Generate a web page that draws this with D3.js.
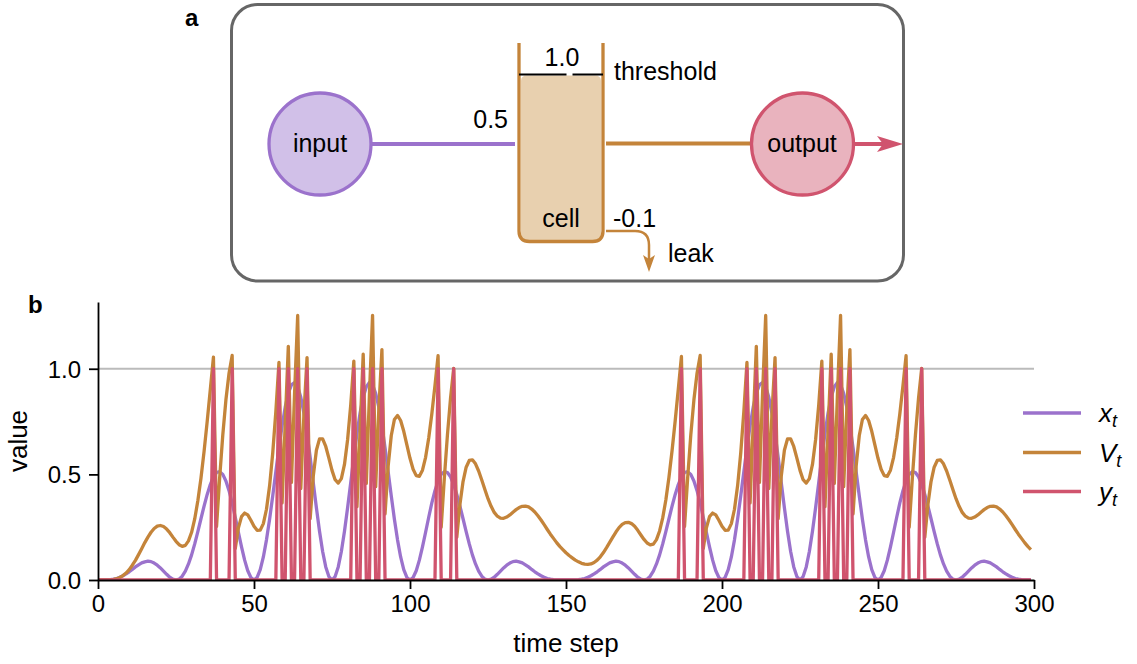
<!DOCTYPE html>
<html><head><meta charset="utf-8">
<script src="https://cdn.jsdelivr.net/npm/d3@7"></script>
<style>
body{margin:0;background:#fff}
svg{display:block}
text{font-family:"Liberation Sans",Arial,sans-serif;fill:#000}
</style>
</head><body>
<svg id="chart" width="1137" height="664"></svg>
<script>
// ---- data (one value per time step t = 0..299) ----
const inputX = [
0,0,0,0.001,0.002,0.004,0.007,0.013,0.020,0.029,
0.039,0.050,0.062,0.072,0.081,0.086,0.089,0.087,0.080,0.070,
0.057,0.042,0.027,0.013,0.004,0,0.004,0.018,0.042,0.076,
0.119,0.171,0.229,0.290,0.350,0.405,0.452,0.488,0.509,0.513,
0.500,0.469,0.423,0.365,0.297,0.226,0.157,0.094,0.044,0.012,
0,0.012,0.049,0.109,0.190,0.288,0.398,0.513,0.626,0.730,
0.818,0.884,0.924,0.935,0.915,0.865,0.790,0.693,0.581,0.461,
0.342,0.231,0.135,0.062,0.016,0,0.016,0.062,0.135,0.231,
0.342,0.461,0.581,0.693,0.790,0.865,0.915,0.935,0.924,0.884,
0.818,0.730,0.626,0.513,0.398,0.288,0.190,0.109,0.049,0.012,
0,0.012,0.044,0.094,0.157,0.226,0.297,0.365,0.423,0.469,
0.500,0.513,0.509,0.488,0.452,0.405,0.350,0.290,0.229,0.171,
0.119,0.076,0.042,0.018,0.004,0,0.004,0.013,0.027,0.042,
0.057,0.070,0.080,0.087,0.089,0.086,0.081,0.072,0.062,0.050,
0.039,0.029,0.020,0.013,0.007,0.004,0.002,0.001,0,0,
0,0,0,0.001,0.002,0.004,0.007,0.013,0.020,0.029,
0.039,0.050,0.062,0.072,0.081,0.086,0.089,0.087,0.080,0.070,
0.057,0.042,0.027,0.013,0.004,0,0.004,0.018,0.042,0.076,
0.119,0.171,0.229,0.290,0.350,0.405,0.452,0.488,0.509,0.513,
0.500,0.469,0.423,0.365,0.297,0.226,0.157,0.094,0.044,0.012,
0,0.012,0.049,0.109,0.190,0.288,0.398,0.513,0.626,0.730,
0.818,0.884,0.924,0.935,0.915,0.865,0.790,0.693,0.581,0.461,
0.342,0.231,0.135,0.062,0.016,0,0.016,0.062,0.135,0.231,
0.342,0.461,0.581,0.693,0.790,0.865,0.915,0.935,0.924,0.884,
0.818,0.730,0.626,0.513,0.398,0.288,0.190,0.109,0.049,0.012,
0,0.012,0.044,0.094,0.157,0.226,0.297,0.365,0.423,0.469,
0.500,0.513,0.509,0.488,0.452,0.405,0.350,0.290,0.229,0.171,
0.119,0.076,0.042,0.018,0.004,0,0.004,0.013,0.027,0.042,
0.057,0.070,0.080,0.087,0.089,0.086,0.081,0.072,0.062,0.050,
0.039,0.029,0.020,0.013,0.007,0.004,0.002,0.001,0,0
];
const cellV = [
0,0,0,0,0.001,0.003,0.006,0.012,0.021,0.033,
0.049,0.070,0.093,0.120,0.148,0.177,0.203,0.226,0.244,0.255,
0.258,0.253,0.241,0.224,0.203,0.183,0.167,0.159,0.164,0.185,
0.226,0.289,0.375,0.482,0.609,0.751,0.902,1.055,0.254,0.485,
0.687,0.853,0.979,1.063,0.149,0.247,0.300,0.317,0.308,0.283,
0.254,0.235,0.236,0.267,0.335,0.446,0.600,0.797,1.030,0.365,
0.738,1.106,0.462,0.883,1.252,0.433,0.784,1.053,0.291,0.492,
0.614,0.668,0.668,0.632,0.577,0.519,0.475,0.459,0.480,0.547,
0.664,0.828,1.036,0.347,0.707,1.069,0.457,0.879,1.253,0.442,
0.807,1.091,0.313,0.539,0.684,0.760,0.779,0.755,0.704,0.640,
0.576,0.524,0.494,0.491,0.520,0.581,0.672,0.787,0.920,1.062,
0.250,0.481,0.687,0.862,1.002,0.202,0.357,0.466,0.534,0.566,
0.569,0.550,0.516,0.473,0.428,0.385,0.349,0.320,0.302,0.293,
0.292,0.298,0.308,0.321,0.333,0.343,0.349,0.350,0.346,0.336,
0.322,0.304,0.284,0.262,0.239,0.217,0.197,0.177,0.159,0.144,
0.129,0.116,0.105,0.094,0.086,0.079,0.075,0.074,0.076,0.083,
0.094,0.110,0.130,0.153,0.178,0.203,0.227,0.248,0.263,0.272,
0.273,0.267,0.254,0.235,0.213,0.192,0.175,0.166,0.170,0.191,
0.232,0.294,0.379,0.486,0.613,0.754,0.904,1.058,0.254,0.485,
0.687,0.853,0.979,1.063,0.149,0.247,0.300,0.317,0.308,0.283,
0.254,0.235,0.236,0.267,0.335,0.446,0.600,0.797,1.030,0.365,
0.738,1.106,0.462,0.883,1.252,0.433,0.784,1.053,0.291,0.492,
0.614,0.668,0.668,0.632,0.577,0.519,0.475,0.459,0.480,0.547,
0.664,0.828,1.036,0.347,0.707,1.069,0.457,0.879,1.253,0.442,
0.807,1.091,0.313,0.539,0.684,0.760,0.779,0.755,0.704,0.640,
0.576,0.524,0.494,0.491,0.520,0.581,0.672,0.787,0.920,1.062,
0.250,0.481,0.687,0.862,1.002,0.202,0.357,0.466,0.534,0.566,
0.569,0.550,0.516,0.473,0.428,0.385,0.349,0.320,0.302,0.293,
0.292,0.298,0.308,0.321,0.333,0.343,0.349,0.350,0.346,0.336,
0.322,0.304,0.284,0.262,0.239,0.217,0.197,0.177,0.159,0.144
];
// time steps where the output y_t fires (y_t = 1), otherwise y_t = 0
const spikeSteps = [37,43,58,61,64,67,82,85,88,91,109,114,187,193,208,211,214,217,232,235,238,241,259,264];
const xTicks = [0,50,100,150,200,250,300];
const yTicks = [0,0.5,1.0];
const thresholdValue = 1.0;
const seriesNames = ["x","V","y"];
const seriesColors = ["#9b72cc","#c4843a","#d0546e"];

// ---- build table ----
const steps = d3.range(inputX.length);
const spikeSet = new Set(spikeSteps);
const outputY = steps.map(t => spikeSet.has(t) ? 1 : 0);
const series = [inputX, cellV, outputY].map((vals, i) => ({
  name: seriesNames[i], color: seriesColors[i],
  points: steps.map(t => [t, vals[t]])
}));

const svg = d3.select("#chart");

// ================= panel a: diagram =================
const ga = svg.append("g");
ga.append("text").attr("x",185).attr("y",26).attr("font-size",24).attr("font-weight","bold").text("a");
ga.append("rect").attr("x",231.5).attr("y",4.5).attr("width",672).attr("height",276.5)
  .attr("rx",26).attr("fill","none").attr("stroke","#666").attr("stroke-width",3);

// input node
ga.append("line").attr("x1",372).attr("x2",515).attr("y1",144).attr("y2",144)
  .attr("stroke",seriesColors[0]).attr("stroke-width",4);
ga.append("circle").attr("cx",320).attr("cy",144).attr("r",51)
  .attr("fill","#d1c0e8").attr("stroke",seriesColors[0]).attr("stroke-width",3.3);
ga.append("text").attr("x",320).attr("y",152).attr("text-anchor","middle").attr("font-size",25).text("input");
ga.append("text").attr("x",508).attr("y",128).attr("text-anchor","end").attr("font-size",25).text("0.5");

// cell
ga.append("path").attr("d","M521,81 Q521,75.5 527,75.5 H595 Q601,75.5 601,81 V241 H521 Z")
  .attr("fill","#e8d0af");
ga.append("path").attr("d","M519,43 V231 Q519,241.5 529.5,241.5 H592.5 Q603,241.5 603,231 V43")
  .attr("fill","none").attr("stroke",seriesColors[1]).attr("stroke-width",3.3);
ga.append("line").attr("x1",519).attr("x2",566.5).attr("y1",74.5).attr("y2",74.5).attr("stroke","#000").attr("stroke-width",2);
ga.append("line").attr("x1",572.5).attr("x2",603).attr("y1",74.5).attr("y2",74.5).attr("stroke","#000").attr("stroke-width",2);
ga.append("text").attr("x",562).attr("y",66).attr("text-anchor","middle").attr("font-size",25).text("1.0");
ga.append("text").attr("x",614).attr("y",80).attr("font-size",25).text("threshold");
ga.append("text").attr("x",561).attr("y",227).attr("text-anchor","middle").attr("font-size",25).text("cell");
ga.append("text").attr("x",613).attr("y",227).attr("font-size",25).text("-0.1");

// leak arrow
ga.append("path").attr("d","M606,231 H635 Q649,231 649,245 V262")
  .attr("fill","none").attr("stroke",seriesColors[1]).attr("stroke-width",2.5);
ga.append("path").attr("d","M649,272 L643,255 L649,259 L655,255 Z").attr("fill",seriesColors[1]);
ga.append("text").attr("x",668).attr("y",262).attr("font-size",25).text("leak");

// cell -> output
ga.append("line").attr("x1",606).attr("x2",752).attr("y1",143.5).attr("y2",143.5)
  .attr("stroke",seriesColors[1]).attr("stroke-width",4);
ga.append("circle").attr("cx",802.5).attr("cy",144).attr("r",51)
  .attr("fill","#e9b3be").attr("stroke",seriesColors[2]).attr("stroke-width",3.3);
ga.append("text").attr("x",802).attr("y",152).attr("text-anchor","middle").attr("font-size",25).text("output");
ga.append("line").attr("x1",854).attr("x2",888).attr("y1",144).attr("y2",144)
  .attr("stroke",seriesColors[2]).attr("stroke-width",4);
ga.append("path").attr("d","M903,144 L877,136 L883,144 L877,152 Z").attr("fill",seriesColors[2]);

// ================= panel b: chart =================
const x = d3.scaleLinear().domain([0,300]).range([98,1034]);
const y = d3.scaleLinear().domain([0,1.316]).range([580,302]);

svg.append("text").attr("x",28).attr("y",313).attr("font-size",24).attr("font-weight","bold").text("b");

svg.append("defs").append("clipPath").attr("id","plotclip")
  .append("rect").attr("x",98).attr("y",302).attr("width",936).attr("height",278);

// threshold reference line
svg.append("line").attr("x1",x(0)).attr("x2",x(300)).attr("y1",y(thresholdValue)).attr("y2",y(thresholdValue))
  .attr("stroke","#bbbbbb").attr("stroke-width",2);

const line = d3.line().x(d => x(d[0])).y(d => y(d[1]));
const gl = svg.append("g").attr("clip-path","url(#plotclip)");
gl.selectAll("path.series").data(series).join("path")
  .attr("class","series")
  .attr("d", d => line(d.points))
  .attr("fill","none").attr("stroke", d => d.color)
  .attr("stroke-width",3.3).attr("stroke-linejoin","round");

// axes
const xAxis = svg.append("g").attr("transform","translate(0,580)")
  .call(d3.axisBottom(x).tickValues(xTicks).tickSize(9).tickSizeOuter(0).tickPadding(6).tickFormat(d3.format("d")));
const yAxis = svg.append("g").attr("transform","translate(98,0)")
  .call(d3.axisLeft(y).tickValues(yTicks).tickSize(9).tickSizeOuter(0).tickPadding(8).tickFormat(d3.format(".1f")));
[xAxis, yAxis].forEach(g => {
  g.select(".domain").attr("stroke","#000").attr("stroke-width",1.8);
  g.selectAll(".tick line").attr("stroke","#000").attr("stroke-width",1.8);
  g.selectAll(".tick text").attr("font-size",24).attr("font-family","'Liberation Sans',Arial,sans-serif").attr("fill","#000");
});
yAxis.selectAll(".tick text").attr("dy","0.35em");

svg.append("text").attr("x",566).attr("y",652).attr("text-anchor","middle").attr("font-size",26).text("time step");
svg.append("text").attr("transform","translate(27,441) rotate(-90)").attr("text-anchor","middle").attr("font-size",26).text("value");

// legend
const legY = [413, 452.5, 491.5];
const lg = svg.append("g");
series.forEach((s, i) => {
  lg.append("line").attr("x1",1023).attr("x2",1081).attr("y1",legY[i]).attr("y2",legY[i])
    .attr("stroke",s.color).attr("stroke-width",3.5);
  const t = lg.append("text").attr("x",1099).attr("y",legY[i]+9)
    .attr("font-family","'DejaVu Sans',sans-serif").attr("font-style","italic").attr("font-size",26);
  t.append("tspan").text(s.name);
  t.append("tspan").attr("font-size",18).attr("dy",5).text("t");
});
</script>
</body></html>
